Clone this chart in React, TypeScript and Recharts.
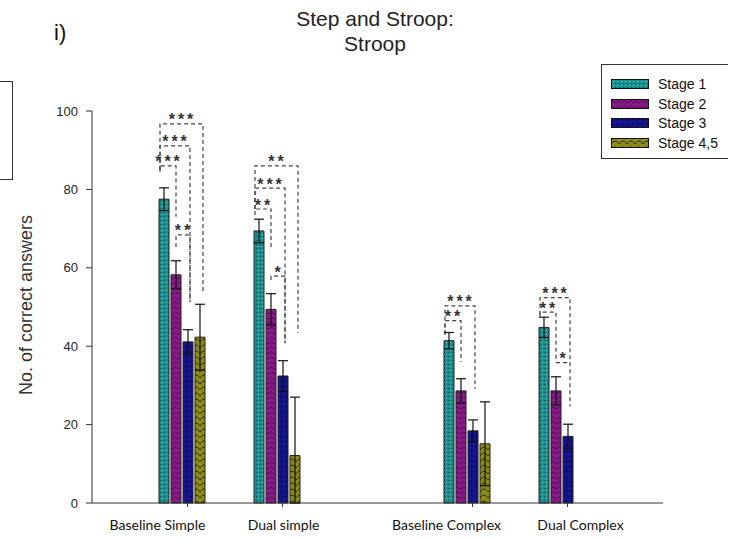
import { Bar, BarChart, ErrorBar, Rectangle, XAxis, YAxis } from "recharts"

const categories = ["Baseline Simple", "Dual simple", "", "Baseline Complex", "Dual Complex"]
const stageNames = ["Stage 1", "Stage 2", "Stage 3", "Stage 4,5"]

const stage1 = [77.5, 69.4, null, 41.4, 44.8]
const stage1Err = [2.9, 3.0, null, 2.1, 2.6]
const stage2 = [58.2, 49.4, null, 28.6, 28.6]
const stage2Err = [3.6, 4.0, null, 3.1, 3.6]
const stage3 = [41.1, 32.4, null, 18.4, 17.0]
const stage3Err = [3.1, 3.9, null, 2.8, 3.1]
const stage45 = [42.3, 12.1, null, 15.1, null]
const stage45Err: (number | number[] | null)[] = [8.4, [12.1, 14.9], null, 10.7, null]

// significance brackets: [category, from bar, to bar, level, from end, to end, stars]
const brackets: [string, number, number, number, number, number, string][] = [
  ["Baseline Simple", 0, 3, 96.7, 85, 53.6, "***"],
  ["Baseline Simple", 0, 2, 91.1, 85, 51.3, "***"],
  ["Baseline Simple", 0, 1, 86.0, 84.4, 73.0, "***"],
  ["Baseline Simple", 1, 2, 68.4, 65.3, 51.3, "**"],
  ["Dual simple", 0, 3, 86.0, 75, 43.4, "**"],
  ["Dual simple", 0, 2, 80.3, 75, 40.8, "***"],
  ["Dual simple", 0, 1, 75.0, 73.5, 64.5, "**"],
  ["Dual simple", 1, 2, 57.9, 56.9, 40.8, "*"],
  ["Baseline Complex", 0, 2, 50.3, 43, 29.1, "***"],
  ["Baseline Complex", 0, 1, 46.5, 43, 36.0, "**"],
  ["Dual Complex", 0, 2, 52.4, 48, 24.6, "***"],
  ["Dual Complex", 0, 1, 48.7, 47.6, 36.0, "**"],
  ["Dual Complex", 1, 2, 35.8, 35.8, 35.8, "*"],
]

const yTicks = [0, 20, 40, 60, 80, 100]

const data = categories.map((name, i) => ({
  name,
  s1: stage1[i],
  e1: stage1Err[i],
  s2: stage2[i],
  e2: stage2Err[i],
  s3: stage3[i],
  e3: stage3Err[i],
  s4: stage45[i],
  e4: stage45Err[i],
}))

const BAR_SIZE = 10
const BAR_GAP = 2
const lineShift = [-4, 0, 2, 3]
const patternIds = ["pat-s1", "pat-s2", "pat-s3", "pat-s4"]
const labelShift: Record<string, number> = {
  "Baseline Simple": -30,
  "Dual simple": 1,
  "Baseline Complex": -26,
  "Dual Complex": 13,
}

const SANS = "'Liberation Sans', Arial, sans-serif"

function Patterns() {
  return (
    <defs>
      <pattern id="pat-s1" width="4" height="4" patternUnits="userSpaceOnUse">
        <rect width="4" height="4" fill="#189090" />
        <rect x="0" y="0" width="1" height="1" fill="#0a4c4c" />
        <rect x="2" y="2" width="1" height="1" fill="#68c8c8" />
      </pattern>
      <pattern id="pat-s2" width="6" height="5" patternUnits="userSpaceOnUse">
        <rect width="6" height="5" fill="#8a1a8a" />
        <path d="M0 3 Q1.5 1 3 3 T6 3" stroke="#3a063a" strokeWidth="0.8" fill="none" />
      </pattern>
      <pattern id="pat-s3" width="5" height="5" patternUnits="userSpaceOnUse">
        <rect width="5" height="5" fill="#12128a" />
        <circle cx="1.5" cy="1.5" r="0.7" fill="#000040" />
        <circle cx="4" cy="4" r="0.5" fill="#4040b0" />
      </pattern>
      <pattern id="pat-s4" width="8" height="6" patternUnits="userSpaceOnUse">
        <rect width="8" height="6" fill="#8c8c10" />
        <path d="M0 6 Q4 0 8 6" stroke="#2e2e00" strokeWidth="1" fill="none" />
      </pattern>
    </defs>
  )
}

// first bar of each group also carries the group's significance brackets
function Stage1Bar(props: any) {
  const { x, y, width, height, payload } = props
  const base = y + height
  const perUnit = height / payload.s1
  const toY = (v: number) => base - v * perUnit
  const toX = (k: number) => x + k * (width + BAR_GAP) + width / 2 + lineShift[k]
  return (
    <g>
      <Rectangle {...props} />
      {brackets
        .filter((b) => b[0] === payload.name)
        .map(([, a, b, level, endA, endB, stars], i) => {
          const xa = toX(a)
          const xb = toX(b)
          const yl = toY(level)
          return (
            <g key={i}>
              <path
                d={`M${xa},${toY(endA)} L${xa},${yl} L${xb},${yl} L${xb},${toY(endB)}`}
                fill="none"
                stroke="#444"
                strokeWidth={1.2}
                strokeDasharray="4 3"
              />
              <text
                x={(xa + xb) / 2 + 1}
                y={yl + 1.5}
                textAnchor="middle"
                fontSize={16}
                fontWeight="bold"
                letterSpacing={3}
                fill="#333"
                fontFamily={SANS}
              >
                {stars}
              </text>
            </g>
          )
        })}
    </g>
  )
}

function CategoryTick({ x, y, payload }: any) {
  if (!payload.value) return null
  return (
    <g>
      <line x1={x} x2={x} y1={y} y2={y + 4} stroke="#333" />
      <text
        x={x + (labelShift[payload.value] ?? 0)}
        y={y + 27}
        textAnchor="middle"
        fontSize={14}
        fill="#111"
        fontFamily="Lato, 'Liberation Sans', sans-serif"
      >
        {payload.value}
      </text>
    </g>
  )
}

function StageLegend() {
  return (
    <div
      style={{
        position: "absolute",
        left: 601,
        top: 64,
        width: 127,
        height: 95,
        border: "1px solid #333",
        borderRight: "none",
        boxSizing: "border-box",
        fontFamily: SANS,
        fontSize: 14,
        color: "#111",
      }}
    >
      {stageNames.map((name, i) => (
        <div
          key={name}
          style={{ position: "absolute", left: 9, top: 11 + i * 19.5, display: "flex", alignItems: "center", height: 16 }}
        >
          <svg width={38} height={10} style={{ display: "block" }}>
            <rect x={0.5} y={0.5} width={37} height={9} fill={`url(#${patternIds[i]})`} stroke="#111" />
          </svg>
          <span style={{ marginLeft: 9 }}>{name}</span>
        </div>
      ))}
    </div>
  )
}

export default function App() {
  return (
    <div style={{ position: "absolute", left: 0, top: 0, width: 729, height: 539, background: "#fff", overflow: "hidden" }}>
      <div
        style={{
          position: "absolute",
          left: -2,
          top: 81,
          width: 14,
          height: 97,
          border: "1px solid #333",
          borderLeft: "none",
        }}
      />
      <div style={{ position: "absolute", left: 54, top: 20, fontFamily: SANS, fontSize: 22, color: "#111" }}>i)</div>
      <div
        style={{
          position: "absolute",
          left: 225,
          width: 300,
          top: 6,
          textAlign: "center",
          fontFamily: SANS,
          fontSize: 21,
          lineHeight: "25px",
          color: "#222",
        }}
      >
        Step and Stroop:
        <br />
        Stroop
      </div>
      <BarChart
        width={729}
        height={539}
        data={data}
        margin={{ top: 111, right: 66, bottom: 0, left: 0 }}
        barSize={BAR_SIZE}
        barGap={BAR_GAP}
      >
        <Patterns />
        <XAxis
          dataKey="name"
          xAxisId="cat"
          height={36}
          padding={{ left: 48, right: 48 }}
          tickLine={false}
          tickSize={0}
          tickMargin={0}
          stroke="#333"
          tick={<CategoryTick />}
          interval={0}
        />
        <XAxis
          dataKey="name"
          xAxisId="bars"
          orientation="top"
          height={0}
          hide
          padding={{ left: 42, right: 54 }}
        />
        <YAxis
          domain={[0, 100]}
          ticks={yTicks}
          width={92}
          tickSize={6}
          tickMargin={8}
          stroke="#333"
          tick={{ fill: "#222", fontSize: 13, fontFamily: SANS }}
          label={{
            value: "No. of correct answers",
            angle: -90,
            position: "center",
            dx: -20,
            dy: -2,
            style: { fontSize: 18, fill: "#333", fontFamily: SANS },
          }}
        />
        <Bar dataKey="s1" name={stageNames[0]} xAxisId="bars" fill="url(#pat-s1)" stroke="#222" isAnimationActive={false} shape={<Stage1Bar />}>
          <ErrorBar dataKey="e1" width={5} stroke="#111" strokeWidth={1.2} direction="y" />
        </Bar>
        <Bar dataKey="s2" name={stageNames[1]} xAxisId="bars" fill="url(#pat-s2)" stroke="#222" isAnimationActive={false}>
          <ErrorBar dataKey="e2" width={5} stroke="#111" strokeWidth={1.2} direction="y" />
        </Bar>
        <Bar dataKey="s3" name={stageNames[2]} xAxisId="bars" fill="url(#pat-s3)" stroke="#222" isAnimationActive={false}>
          <ErrorBar dataKey="e3" width={5} stroke="#111" strokeWidth={1.2} direction="y" />
        </Bar>
        <Bar dataKey="s4" name={stageNames[3]} xAxisId="bars" fill="url(#pat-s4)" stroke="#222" isAnimationActive={false}>
          <ErrorBar dataKey="e4" width={5} stroke="#111" strokeWidth={1.2} direction="y" />
        </Bar>
      </BarChart>
      <StageLegend />
    </div>
  )
}
